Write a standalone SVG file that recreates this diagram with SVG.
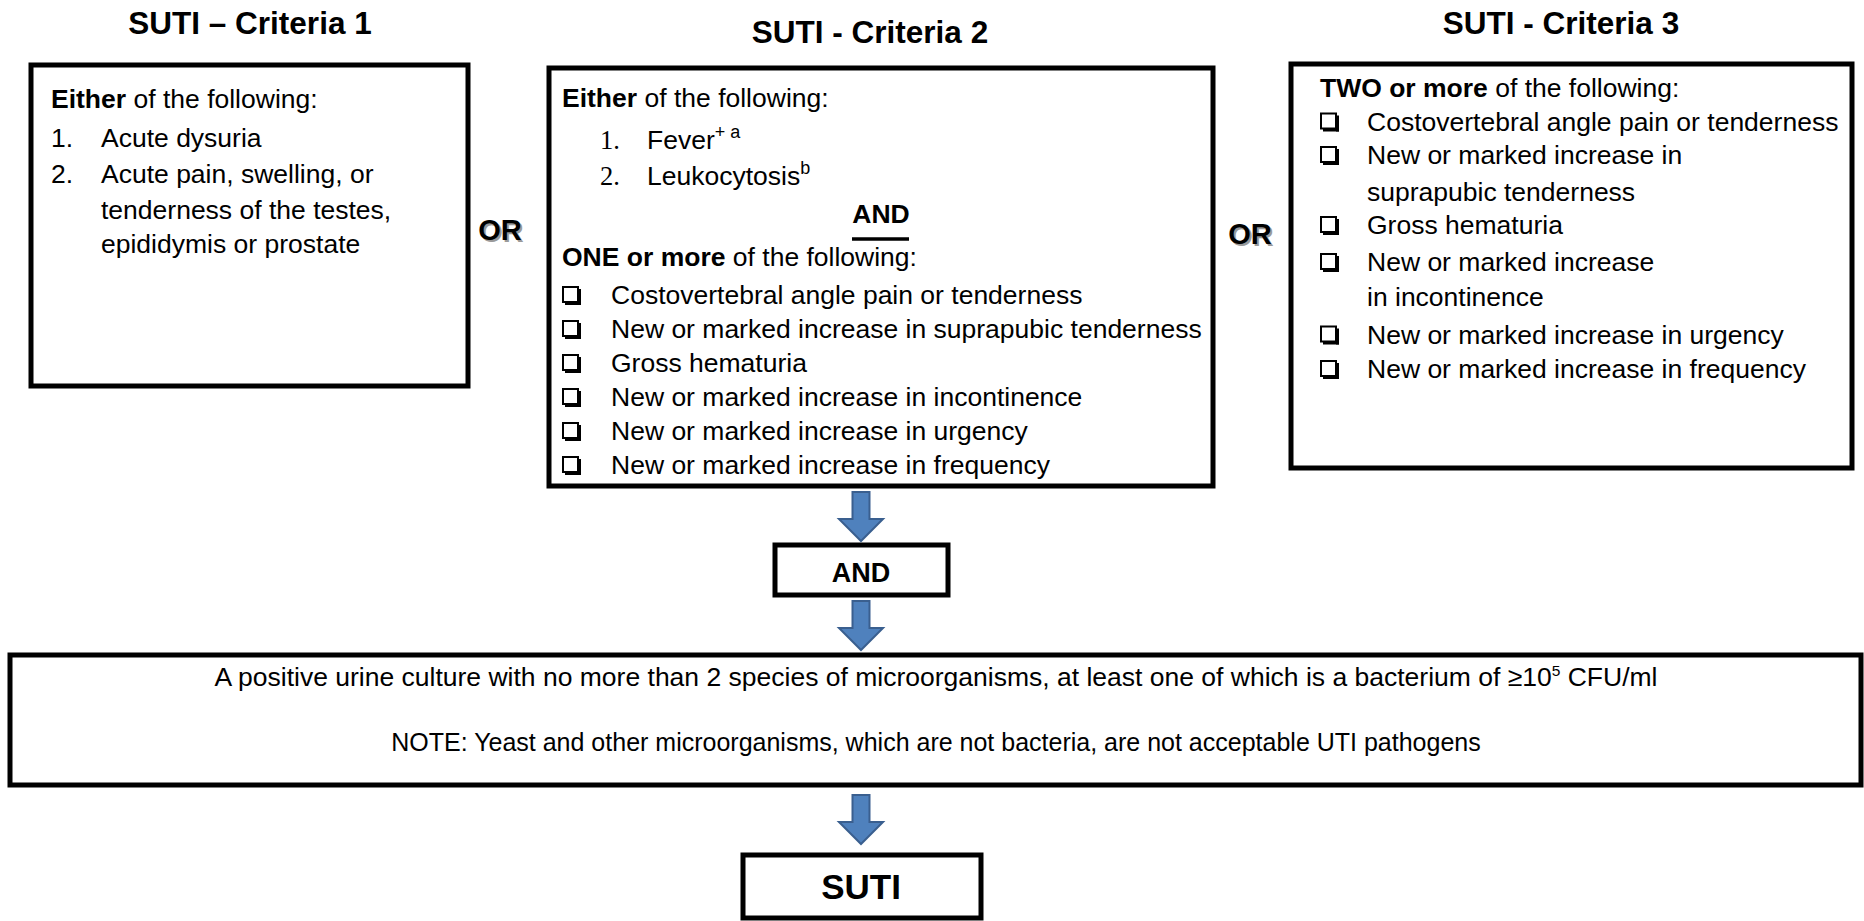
<svg xmlns="http://www.w3.org/2000/svg" xmlns:xlink="http://www.w3.org/1999/xlink" width="1864" height="921" viewBox="0 0 1864 921">
<style>
text{font-family:"Liberation Sans",Arial,sans-serif;fill:#000}
.title{font-size:31.5px;font-weight:bold;text-anchor:middle}
.body{font-size:26.5px}
.b{font-weight:bold}
.num{font-family:"Liberation Serif","Times New Roman",serif;font-size:26.5px}
.or{font-size:29px;font-weight:bold;text-anchor:middle}
.orsh{font-size:29px;font-weight:bold;text-anchor:middle;fill:#9a9a9a}
.box{fill:#fff;stroke:#000;stroke-width:5}
.foot{text-anchor:middle}
.arrow{fill:#4F81BD;stroke:#3A5F8F;stroke-width:2}
</style>
<defs>
<g id="chk">
<rect x="0" y="0" width="15" height="15" fill="none" stroke="#000" stroke-width="2"/>
<rect x="2" y="15" width="16" height="3" fill="#000"/>
<rect x="15" y="2" width="3" height="16" fill="#000"/>
</g>
<path id="arr" d="M-8.5,0 H8.5 V27 H22 L0,49 L-22,27 H-8.5 Z"/>
</defs>
<rect width="1864" height="921" fill="#fff"/>

<g id="titles">
<text class="title" x="250" y="34">SUTI – Criteria 1</text>
<text class="title" x="870" y="43">SUTI - Criteria 2</text>
<text class="title" x="1561" y="34">SUTI - Criteria 3</text>
</g>

<g id="criteria1">
<rect class="box" x="31" y="65" width="437" height="321"/>
<text class="body" x="51" y="108"><tspan class="b">Either</tspan> of the following:</text>
<text class="body" x="51" y="147">1.</text>
<text class="body" x="101" y="147">Acute dysuria</text>
<text class="body" x="51" y="183">2.</text>
<text class="body" x="101" y="183">Acute pain, swelling, or</text>
<text class="body" x="101" y="218.5">tenderness of the testes,</text>
<text class="body" x="101" y="253">epididymis or prostate</text>
</g>

<g id="or1">
<text class="orsh" x="502" y="242">OR</text>
<text class="or" x="500" y="240">OR</text>
</g>

<g id="criteria2">
<rect class="box" x="549" y="68" width="664" height="418"/>
<text class="body" x="562" y="107"><tspan class="b">Either</tspan> of the following:</text>
<text class="num" x="600" y="149">1.</text>
<text class="body" x="647" y="149">Fever<tspan font-size="18" dy="-11">+ a</tspan></text>
<text class="num" x="600" y="185">2.</text>
<text class="body" x="647" y="185">Leukocytosis<tspan font-size="18" dy="-11">b</tspan></text>
<text class="body b" x="881" y="223" text-anchor="middle">AND</text>
<line x1="852" y1="239" x2="909" y2="239" stroke="#000" stroke-width="3.5"/>
<text class="body" x="562" y="266"><tspan class="b">ONE or more</tspan> of the following:</text>
<use xlink:href="#chk" x="563" y="287"/>
<text class="body" x="611" y="304">Costovertebral angle pain or tenderness</text>
<use xlink:href="#chk" x="563" y="321"/>
<text class="body" x="611" y="338">New or marked increase in suprapubic tenderness</text>
<use xlink:href="#chk" x="563" y="355"/>
<text class="body" x="611" y="372">Gross hematuria</text>
<use xlink:href="#chk" x="563" y="389"/>
<text class="body" x="611" y="406">New or marked increase in incontinence</text>
<use xlink:href="#chk" x="563" y="423"/>
<text class="body" x="611" y="440">New or marked increase in urgency</text>
<use xlink:href="#chk" x="563" y="457"/>
<text class="body" x="611" y="474">New or marked increase in frequency</text>
</g>

<g id="or2">
<text class="orsh" x="1252" y="246">OR</text>
<text class="or" x="1250" y="244">OR</text>
</g>

<g id="criteria3">
<rect class="box" x="1291" y="64" width="561" height="404"/>
<text class="body" x="1320" y="96.5"><tspan class="b">TWO or more</tspan> of the following:</text>
<use xlink:href="#chk" x="1321" y="113.5"/>
<text class="body" x="1367" y="130.5">Costovertebral angle pain or tenderness</text>
<use xlink:href="#chk" x="1321" y="147"/>
<text class="body" x="1367" y="164">New or marked increase in</text>
<text class="body" x="1367" y="200.5">suprapubic tenderness</text>
<use xlink:href="#chk" x="1321" y="217"/>
<text class="body" x="1367" y="234">Gross hematuria</text>
<use xlink:href="#chk" x="1321" y="254"/>
<text class="body" x="1367" y="271">New or marked increase</text>
<text class="body" x="1367" y="305.5">in incontinence</text>
<use xlink:href="#chk" x="1321" y="326.5"/>
<text class="body" x="1367" y="343.5">New or marked increase in urgency</text>
<use xlink:href="#chk" x="1321" y="361"/>
<text class="body" x="1367" y="378">New or marked increase in frequency</text>
</g>

<g id="and-box">
<rect class="box" x="775" y="545" width="173" height="50"/>
<text class="b" x="861" y="582" font-size="27" text-anchor="middle">AND</text>
</g>

<g id="culture-box">
<rect class="box" x="10" y="655" width="1851" height="130"/>
<text class="foot" x="936" y="686" font-size="26.5">A positive urine culture with no more than 2 species of microorganisms, at least one of which is a bacterium of ≥10<tspan font-size="15.5" dy="-10">5</tspan><tspan dy="10"> CFU/ml</tspan></text>
<text class="foot" x="936" y="751" font-size="25">NOTE: Yeast and other microorganisms, which are not bacteria, are not acceptable UTI pathogens</text>
</g>

<g id="suti-box">
<rect class="box" x="743" y="855" width="238" height="63"/>
<text class="b" x="861" y="899" font-size="35" text-anchor="middle">SUTI</text>
</g>

<g id="connectors">
<use xlink:href="#arr" class="arrow" x="861" y="492"/>
<use xlink:href="#arr" class="arrow" x="861" y="601"/>
<use xlink:href="#arr" class="arrow" x="861" y="795"/>
</g>
</svg>
